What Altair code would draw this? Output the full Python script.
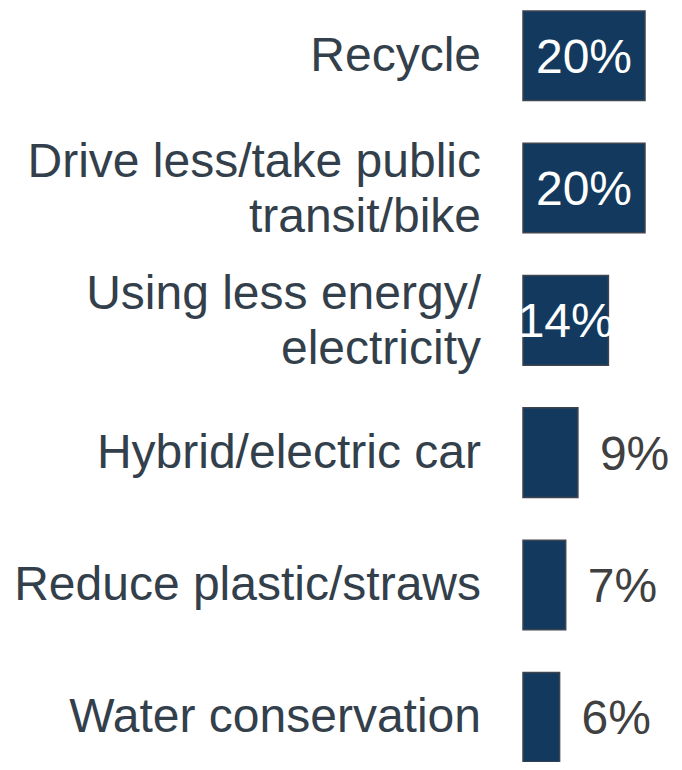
import altair as alt
import pandas as pd

categories = [
    "Recycle",
    "Drive less/take public\ntransit/bike",
    "Using less energy/\nelectricity",
    "Hybrid/electric car",
    "Reduce plastic/straws",
    "Water conservation",
]
values = [20, 20, 14, 9, 7, 6]
value_labels = ["20%", "20%", "14%", "9%", "7%", "6%"]

df = pd.DataFrame({"cat": categories, "value": values, "label": value_labels})

FONT = "Liberation Sans"
FS = 48
LH = 55

y_enc = alt.Y(
    "cat:N",
    sort=categories,
    axis=None,
    scale=alt.Scale(paddingInner=0.323, paddingOuter=0),
)
x_scale = alt.Scale(domain=[0, 20], nice=False, zero=True)

base = alt.Chart(df)

bars = base.mark_bar(
    color="#133a5e", stroke="#3e4550", strokeWidth=1.5
).encode(
    x=alt.X("value:Q", scale=x_scale, axis=None),
    y=y_enc,
)

text_style = dict(
    align="right", baseline="middle", dx=-42, font=FONT, fontSize=FS,
    color="#333f4b", lineBreak="\n", lineHeight=LH,
)

cat_single = base.transform_filter("indexof(datum.cat, '\\n') < 0").mark_text(
    dy=1, **text_style
).encode(
    x=alt.value(0),
    y=y_enc,
    text="cat:N",
)

cat_double = base.transform_filter("indexof(datum.cat, '\\n') >= 0").mark_text(
    dy=2 - LH / 2, **text_style
).encode(
    x=alt.value(0),
    y=y_enc,
    text="cat:N",
)

inside = base.transform_filter("datum.value >= 10").transform_calculate(
    mid="datum.value / 2"
).mark_text(
    align="center", baseline="middle", font=FONT, fontSize=FS, color="white", dy=3,
).encode(
    x=alt.X("mid:Q", scale=x_scale, axis=None),
    y=y_enc,
    text="label:N",
)

outside = base.transform_filter("datum.value < 10").mark_text(
    align="left", baseline="middle", font=FONT, fontSize=FS, color="#404040",
    dx=22, dy=3,
).encode(
    x=alt.X("value:Q", scale=x_scale, axis=None),
    y=y_enc,
    text="label:N",
)

chart = alt.layer(bars, cat_single, cat_double, inside, outside).properties(
    width=122,
    height=751,
    autosize=alt.AutoSizeParams(type="none"),
    padding={"left": 515, "top": 3, "right": 29, "bottom": 0},
    background="white",
).configure_view(stroke=None)

chart.save("out.html", embed_options={"renderer": "svg", "actions": False})
